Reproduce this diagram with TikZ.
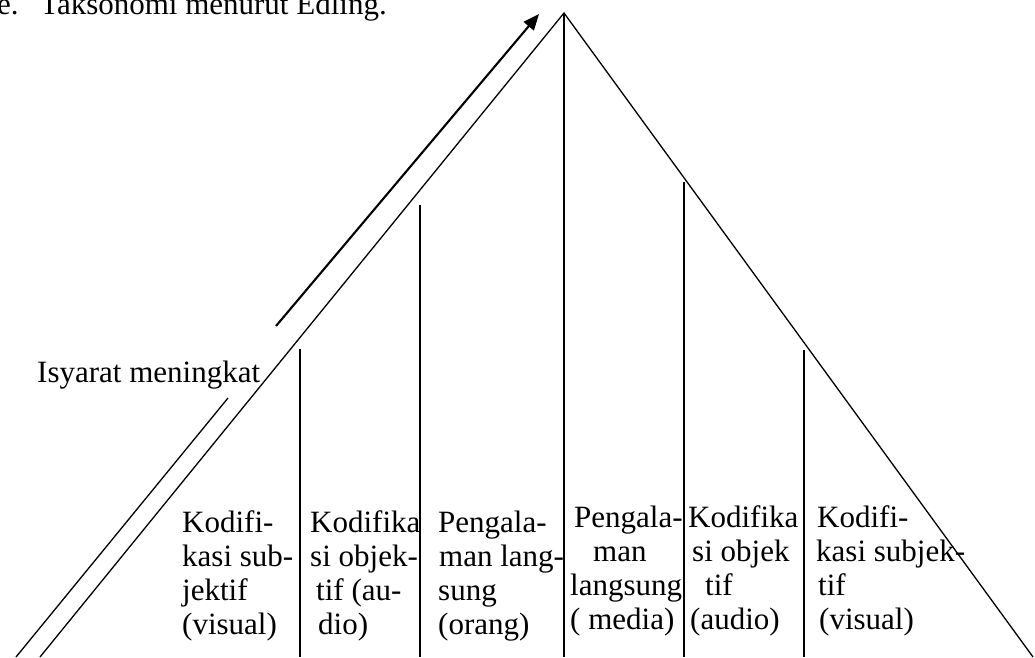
\documentclass[tikz,border=0pt]{standalone}
\usepackage{fontspec}
\setmainfont{Liberation Serif}
\usetikzlibrary{arrows.meta}
\begin{document}
\begin{tikzpicture}[x=1pt,y=-1pt,
  lbl/.style={inner sep=0pt,anchor=base west,font=\fontsize{31}{34}\selectfont},
  side/.style={line width=1.3pt},
  divider/.style={line width=1.7pt},
  riser/.style={line width=2.1pt}]
\useasboundingbox (0,0) rectangle (1035,657);
% triangle
\coordinate (apex) at (564,13);
\coordinate (bl) at (40,657);
\coordinate (br) at (1033,657);
\draw[side] (bl) -- (apex) -- (br);
% dividers
\coordinate (v0t) at (564,13);   \coordinate (v0b) at (564,657);
\coordinate (v1t) at (300,349);  \coordinate (v1b) at (300,657);
\coordinate (v2t) at (420,205);  \coordinate (v2b) at (420,657);
\coordinate (v3t) at (684,182);  \coordinate (v3b) at (684,657);
\coordinate (v4t) at (804,350);  \coordinate (v4b) at (804,657);
\draw[divider] (v0t) -- (v0b);
\draw[divider] (v1t) -- (v1b);
\draw[divider] (v2t) -- (v2b);
\draw[divider] (v3t) -- (v3b);
\draw[divider] (v4t) -- (v4b);
% rising arrow
\coordinate (a0) at (16,657);
\coordinate (a1) at (228,398);
\coordinate (a2) at (276,326);
\coordinate (a3) at (539,14);
\draw[side] (a0) -- (a1);
\draw[riser,-{Triangle[length=16pt,width=13pt]}] (a2) -- (a3);
% title
\node[lbl] (tnum) at (-3,14) {e.};
\node[lbl] (title) at (40,14) {Taksonomi menurut Edling.};
\node[lbl] (isyarat) at (37,382) {Isyarat meningkat};
% cell 1
\node[lbl] (c1a) at (182,532) {Kodifi-};
\node[lbl] (c1b) at (182,566) {kasi sub-};
\node[lbl] (c1c) at (182,600) {jektif};
\node[lbl] (c1d) at (182,634) {(visual)};
% cell 2
\node[lbl] (c2a) at (310,532) {Kodifika};
\node[lbl] (c2b) at (310,566) {si objek-};
\node[lbl] (c2c) at (316,600) {tif (au-};
\node[lbl] (c2d) at (318,634) {dio)};
% cell 3
\node[lbl] (c3a) at (438,532) {Pengala-};
\node[lbl] (c3b) at (439,566) {man lang-};
\node[lbl] (c3c) at (438,600) {sung};
\node[lbl] (c3d) at (438,634) {(orang)};
% cell 4
\node[lbl] (c4a) at (574,527) {Pengala-};
\node[lbl] (c4b) at (593,561) {man};
\node[lbl] (c4c) at (570,595) {langsung};
\node[lbl] (c4d) at (570,629) {( media)};
% cell 5
\node[lbl] (c5a) at (688,527) {Kodifika};
\node[lbl] (c5b) at (692,561) {si objek};
\node[lbl] (c5c) at (705,595) {tif};
\node[lbl] (c5d) at (690,629) {(audio)};
% cell 6
\node[lbl] (c6a) at (817,527) {Kodifi-};
\node[lbl] (c6b) at (816,561) {kasi subjek-};
\node[lbl] (c6c) at (818,595) {tif};
\node[lbl] (c6d) at (819,629) {(visual)};
\end{tikzpicture}
\end{document}
